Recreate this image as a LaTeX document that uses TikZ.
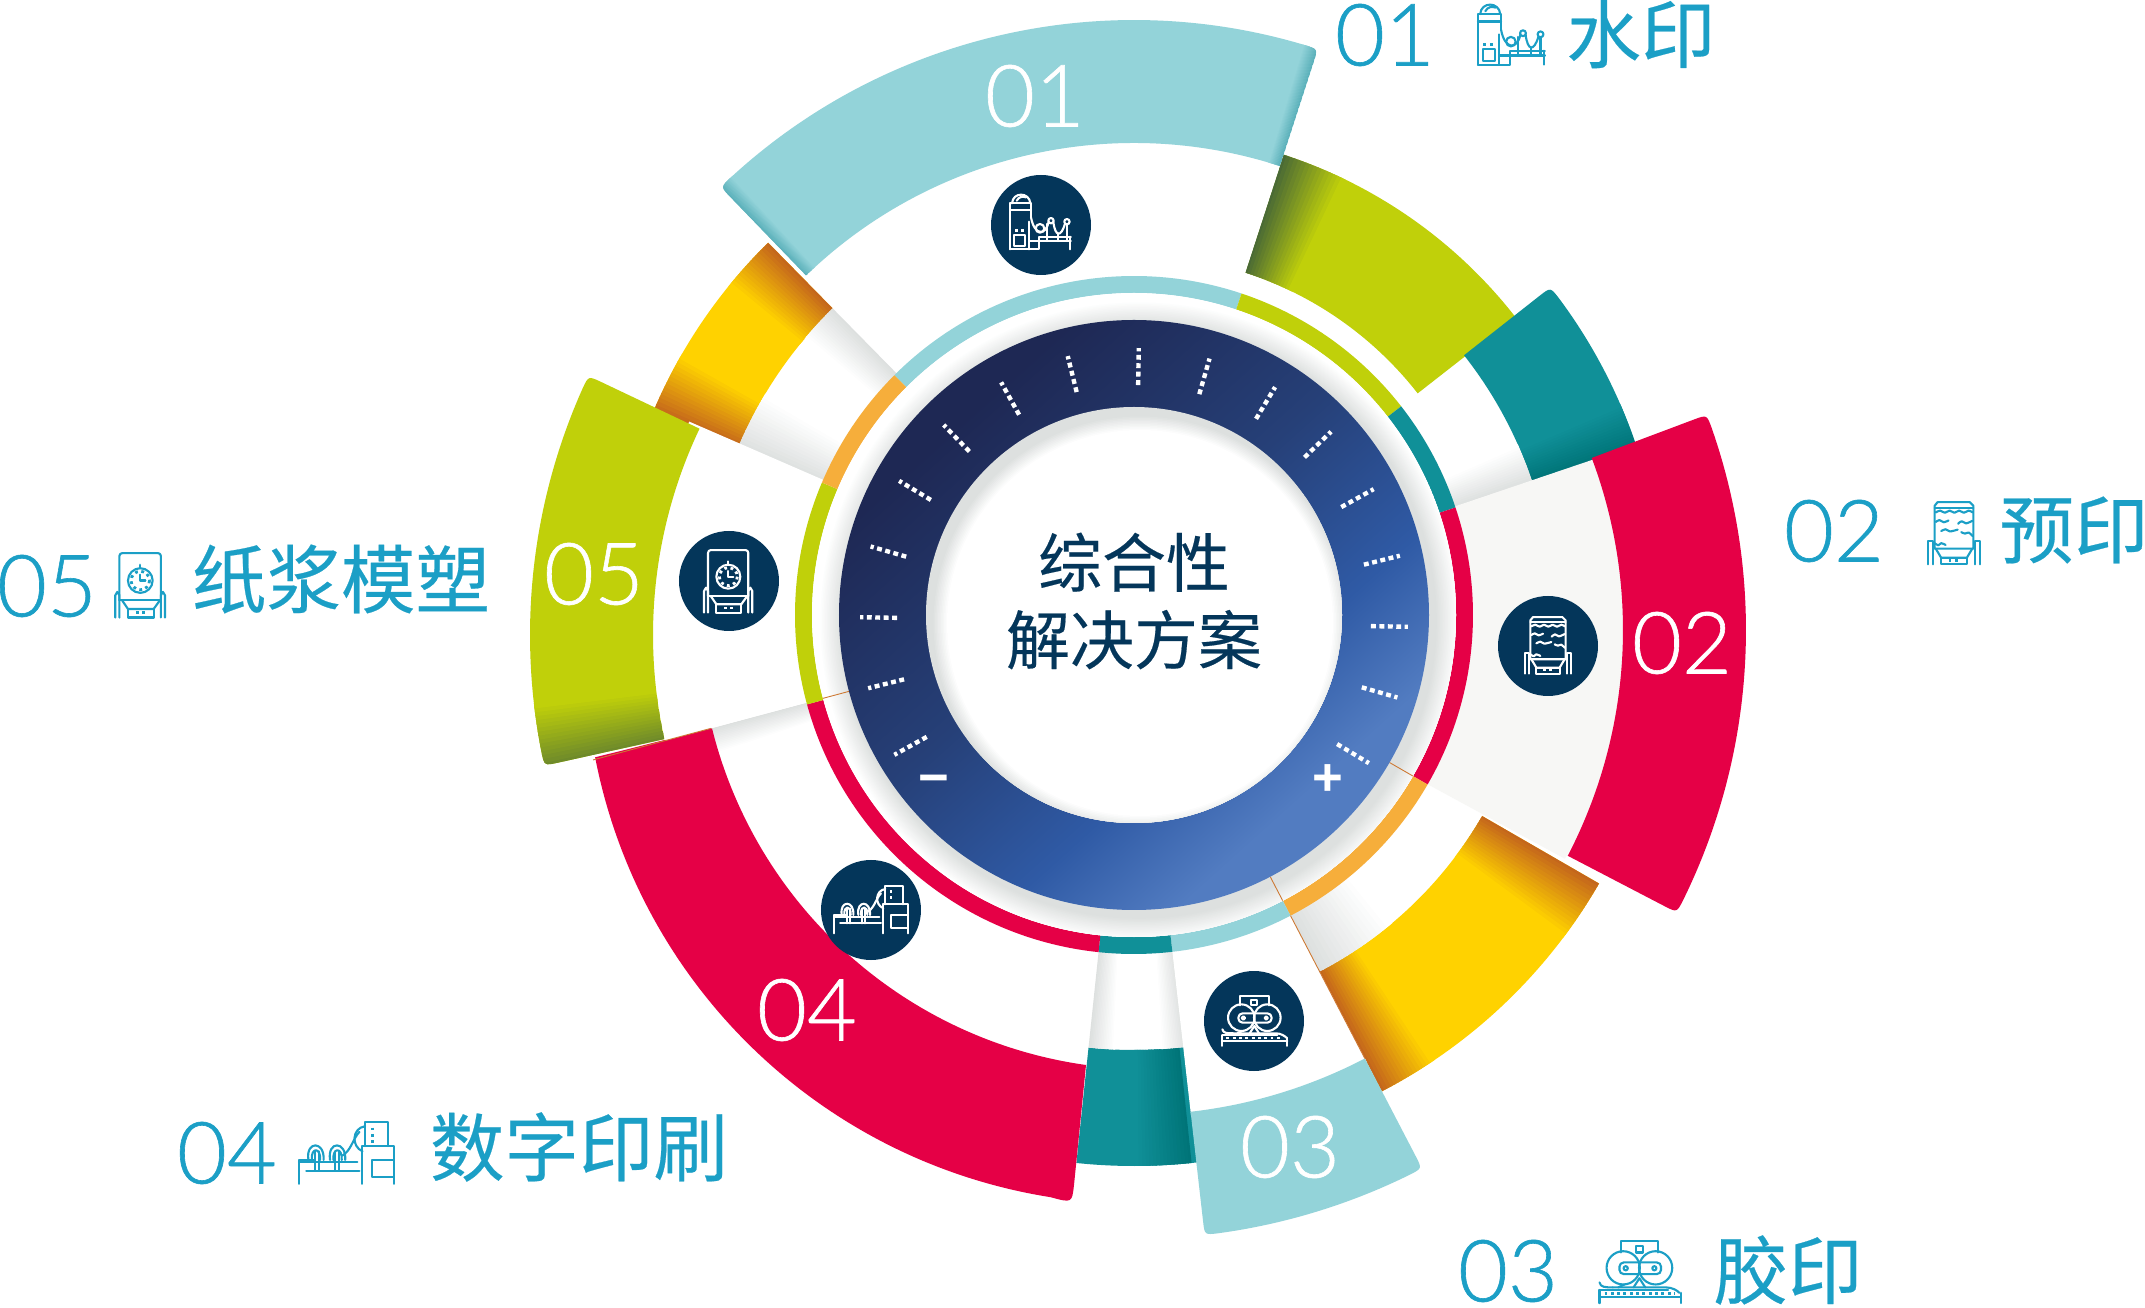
\documentclass[tikz,border=0pt]{standalone}
\usepackage{fontspec}
\setmainfont{Liberation Sans}
\newfontfamily\cjk[FakeBold=0.3]{Noto Sans CJK SC}
\newfontfamily\numfont[FakeBold=0.7]{Lato Light}
\definecolor{WaterBlue} {RGB}{147,211,217}
\definecolor{WaterDeep} {RGB}{90,176,186}
\definecolor{LimeBand}  {RGB}{192,208,10}
\definecolor{LimeDeep}  {RGB}{74,106,53}
\definecolor{LimeLow}   {RGB}{110,138,42}
\definecolor{TealBand}  {RGB}{16,144,152}
\definecolor{TealDeep}  {RGB}{0,116,120}
\definecolor{CrimsonBand}{RGB}{229,0,70}
\definecolor{GoldBand}  {RGB}{255,210,0}
\definecolor{GoldDeep}  {RGB}{196,102,28}
\definecolor{AmberRing} {RGB}{246,174,59}
\definecolor{LabelBlue} {RGB}{27,159,198}
\definecolor{IconNavy}  {RGB}{4,54,90}
\definecolor{DialDark}  {RGB}{30,40,84}
\definecolor{DialCore}  {RGB}{38,64,120}
\definecolor{DialMid}   {RGB}{47,90,165}
\definecolor{DialPale}  {RGB}{82,124,193}
\definecolor{PaleFill}  {RGB}{247,247,245}
\definecolor{ShadeGray} {RGB}{221,224,223}
\definecolor{HairLine}  {RGB}{205,120,50}
\pgfdeclareverticalshading{dialshade}{100bp}{color(0bp)=(DialPale); color(29bp)=(DialPale);
  color(39bp)=(DialMid); color(53bp)=(DialCore); color(72bp)=(DialDark); color(100bp)=(DialDark)}
\usetikzlibrary{calc}
\newcommand{\bandpath}[4]{(#3:#1) -- ({#3}:{#2-0.14}) .. controls (#3:#2) .. ({#3+8/#2}:#2)
  arc[start angle={#3+8/#2},end angle={#4-8/#2},radius=#2]
  .. controls (#4:#2) .. ({#4}:{#2-0.14}) -- (#4:#1)
  arc[start angle=#4,end angle=#3,radius=#1] -- cycle}
\newcommand{\slices}[6]{\foreach \i in {0,...,15}{
    \pgfmathsetmacro{\sa}{#3+(#4-(#3))*max(\i-0.3,0)/16}
    \pgfmathsetmacro{\sb}{#3+(#4-(#3))*(\i+1)/16}
    \pgfmathsetmacro{\mx}{100*(1-\i/15)}
    \fill[#5!\mx!#6] (\sa:#1) -- (\sa:#2) arc[start angle=\sa,end angle=\sb,radius=#2]
      -- (\sb:#1) arc[start angle=\sb,end angle=\sa,radius=#1] -- cycle;}}
\tikzset{
  iconbase/.style={x=0.00333cm,y=-0.00333cm,shift={(-135,-135)},line width=0.6pt,
                   line join=round,line cap=round},
  icondots/.style={dash pattern=on 0.8pt off 1pt,line width=0.8pt,line cap=butt},
  bignum/.style={font=\fontsize{24.5}{24.5}\numfont,inner sep=0pt},
  whitenum/.style={bignum,white},
  bluenum/.style={bignum,LabelBlue},
  cjklabel/.style={font=\fontsize{21.2}{24}\cjk,LabelBlue,inner sep=0pt},
  iconcirc/.style={circle,fill=IconNavy,minimum size=1cm,inner sep=0pt},
  tickdash/.style={white,line width=1.25pt,dash pattern=on 1.4pt off 1pt},
  signtxt/.style={white,font=\fontsize{15}{15}\selectfont\bfseries,inner sep=0pt},
  watericon/.pic={\begin{scope}[iconbase]
    \draw (42,208) -- (42,70) -- (105,70) -- (105,112);
    \draw (42,208) -- (100,208);
    \draw (48,70) .. controls (50,35) and (100,35) .. (103,70);
    \draw (62,62) .. controls (68,50) and (80,48) .. (90,52);
    \draw (42,90) -- (105,90);
    \draw[icondots] (57,152) -- (85,152);
    \draw (55,165) rectangle (88,197);
    \draw (132,145) circle[radius=13];
    \draw (165,122) circle[radius=8];
    \draw (213,125) circle[radius=8];
    \draw (105,112) .. controls (115,168) and (150,168) .. (158,125);
    \draw (172,125) .. controls (178,172) and (195,172) .. (207,132);
    \draw (100,208) -- (130,208) -- (130,170) -- (225,170);
    \draw (100,125) -- (100,208);
    \draw (100,183) -- (225,183);
    \draw (222,170) -- (222,208);
    \draw (152,132) -- (152,183);
    \draw (187,160) -- (187,183);
    \draw (213,133) -- (213,183);
  \end{scope}},
  preprinticon/.pic={\begin{scope}[iconbase]
    \draw (82,175) -- (82,58) -- (90,48) -- (178,48) -- (188,58) -- (188,175) -- cycle;
    \draw (82,64) -- (188,64);
    \draw plot[smooth] coordinates {(85,76) (97,71) (110,77) (123,71) (136,77) (149,71) (162,77) (175,71) (186,76)};
    \draw plot[smooth] coordinates {(85,102) (95,97) (107,103) (120,98)};
    \draw plot[smooth] coordinates {(146,107) (156,100) (168,106) (185,99)};
    \draw plot[smooth] coordinates {(100,127) (112,122) (124,128) (145,123)};
    \draw plot[smooth] coordinates {(155,130) (165,134) (175,131) (186,141)};
    \draw plot[smooth] coordinates {(82,160) (92,166) (100,160) (112,165)};
    \draw (85,175) -- (100,200) -- (170,200) -- (185,175);
    \draw (100,200) rectangle (170,218);
    \draw[icondots] (120,207) -- (150,207);
    \draw (65,218) -- (65,155) -- (78,155) -- (78,218);
    \draw (192,218) -- (192,155) -- (205,155) -- (205,218);
  \end{scope}},
  offseticon/.pic={\begin{scope}[iconbase]
    \draw (92,88) -- (92,60) -- (180,60) -- (180,88);
    \draw (127,72) rectangle (145,88);
    \draw (97,125) circle[radius=40];
    \draw (175,125) circle[radius=40];
    \draw[rounded corners=1.2pt] (88,112) rectangle (188,140);
    \draw (103,126) circle[radius=5];
    \draw (172,126) circle[radius=5];
    \draw (40,160) .. controls (42,172) and (55,172) .. (72,172);
    \draw (85,172) -- (100,165);
    \draw (150,172) -- (136,150) -- (122,172);
    \draw (72,172) -- (200,172) .. controls (215,172) and (228,180) .. (232,185);
    \draw (40,178) -- (40,210);
    \draw (40,195) -- (235,195);
    \draw (40,178) -- (205,178);
    \draw (235,185) -- (235,210);
    \draw[icondots] (52,186) -- (220,186);
  \end{scope}},
  digitalicon/.pic={\begin{scope}[iconbase]
    \draw (178,118) -- (178,62) -- (232,62) -- (232,118);
    \draw[icondots] (195,75) -- (195,112);
    \draw (178,72) .. controls (148,76) and (145,118) .. (172,130);
    \draw (170,205) -- (170,118) -- (245,118) -- (245,205);
    \draw (195,150) rectangle (245,190);
    \draw (47,150) .. controls (40,105) and (85,105) .. (82,150);
    \draw (55,150) .. controls (52,120) and (76,120) .. (74,150);
    \draw (97,150) .. controls (90,105) and (135,105) .. (132,150);
    \draw (105,150) .. controls (102,120) and (126,120) .. (124,150);
    \draw (125,140) .. controls (145,130) and (150,100) .. (165,85);
    \draw (25,205) -- (25,150) -- (60,150);
    \draw (25,155) -- (160,155);
    \draw (42,175) -- (165,175);
    \draw (62,130) -- (62,175);
    \draw (72,130) -- (72,175);
    \draw (108,130) -- (108,175);
    \draw (118,130) -- (118,175);
  \end{scope}},
  pulpicon/.pic={\begin{scope}[iconbase]
    \draw[rounded corners=0.8pt] (72,180) -- (72,42) -- (193,42) -- (193,180);
    \draw (72,180) -- (193,180);
    \draw (133,122) circle[radius=36];
    \draw[icondots] (133,122) circle[radius=27];
    \draw (133,105) -- (133,122) -- (148,122);
    \draw (133,76) -- (133,86);
    \draw (80,180) -- (97,205) -- (172,205) -- (190,180);
    \draw (97,205) rectangle (172,230);
    \draw[icondots] (120,216) -- (150,216);
    \draw (60,230) -- (60,165) -- (66,155) -- (72,165) -- (72,230);
    \draw (193,230) -- (193,165) -- (199,155) -- (205,165) -- (205,230);
  \end{scope}}
}
\begin{document}
\begin{tikzpicture}
  \useasboundingbox (-11.34,-6.93) rectangle (10.11,6.15);
  \fill[white] (-11.34,-6.93) rectangle (10.11,6.15);
  % back bands
  \fill[GoldBand] (134.5:4.30) -- (134.5:5.22) arc[start angle=134.5,end angle=157,radius=5.22]
    -- (157:4.30) arc[start angle=157,end angle=134.5,radius=4.30] -- cycle;
  \slices{4.30}{5.22}{134.5}{141}{GoldDeep}{GoldBand}
  \slices{4.30}{5.22}{157}{150}{GoldDeep}{GoldBand}
  \slices{3.30}{4.30}{134.5}{140}{ShadeGray}{white}
  \slices{3.30}{4.30}{157}{149}{ShadeGray}{white}
  \fill[LimeBand] (38:3.60) -- (38:4.84) arc[start angle=38,end angle=72,radius=4.84]
    -- (72:3.60) arc[start angle=72,end angle=38,radius=3.60] -- cycle;
  \slices{3.60}{4.84}{72}{64}{LimeDeep}{LimeBand}
  \fill[TealBand] \bandpath{4.20}{5.30}{18.5}{38.2};
  \slices{4.20}{5.30}{18.5}{23.5}{TealDeep}{TealBand}
  \slices{3.30}{4.20}{18.5}{24}{ShadeGray}{white}
  \fill[GoldBand] (-62.5:4.02) -- (-62.5:5.37) arc[start angle=-62.5,end angle=-30,radius=5.37]
    -- (-30:4.02) arc[start angle=-30,end angle=-62.5,radius=4.02] -- cycle;
  \slices{4.02}{5.37}{-62.5}{-56}{GoldDeep}{GoldBand}
  \slices{4.02}{5.37}{-30}{-37}{GoldDeep}{GoldBand}
  \slices{3.30}{4.02}{-62.5}{-50}{ShadeGray}{white}
  \fill[TealBand] (-96:4.35) -- (-96:5.51) arc[start angle=-96,end angle=-83,radius=5.51]
    -- (-83:4.35) arc[start angle=-83,end angle=-96,radius=4.35] -- cycle;
  \slices{4.35}{5.51}{-84}{-90}{TealDeep}{TealBand}
  \slices{3.30}{4.35}{-96}{-92.5}{ShadeGray}{white}
  \slices{3.30}{4.35}{-83}{-86.5}{ShadeGray}{white}
  % front wedges
  \fill[white] (72:3.30) -- (72:4.72) arc[start angle=72,end angle=134,radius=4.72]
    -- (134:3.30) arc[start angle=134,end angle=72,radius=3.30] -- cycle;
  \fill[WaterBlue] \bandpath{4.72}{5.95}{72}{134};
  \begin{scope}
    \clip \bandpath{4.72}{5.95}{72}{134};
    \slices{4.72}{5.95}{72}{73.5}{WaterDeep}{WaterBlue}
    \slices{4.72}{5.95}{134}{132.5}{WaterDeep}{WaterBlue}
  \end{scope}
  \fill[PaleFill] (-30:3.30) -- (-29.5:4.95) arc[start angle=-29.5,end angle=18.7,radius=4.95]
    -- (18.7:3.30) arc[start angle=18.7,end angle=-30,radius=3.30] -- cycle;
  \begin{scope}[shift={(0,-0.15)}]
    \fill[CrimsonBand] \bandpath{4.89}{6.12}{-27.5}{20.6};
  \end{scope}
  \fill[white] (-83.5:3.30) -- (-83.5:5.05) arc[start angle=-83.5,end angle=-62.5,radius=5.05]
    -- (-62.5:3.30) arc[start angle=-62.5,end angle=-83.5,radius=3.30] -- cycle;
  \fill[WaterBlue] \bandpath{5.00}{6.24}{-83.5}{-62.5};
  \slices{3.30}{4.40}{195}{198.5}{ShadeGray}{white}
  \fill[CrimsonBand] ([shift={(0.03,-0.37)}]191:5.52) arc[start angle=191,end angle=261,radius=5.52]
    .. controls (-0.62,-5.88) .. (-0.60,-5.70) -- (-0.48,-4.50)
    arc[start angle=262,end angle=194,radius=4.50] -- cycle;
  \fill[white] (156.5:3.30) -- (156.5:4.85) arc[start angle=156.5,end angle=195,radius=4.85]
    -- (195:3.30) arc[start angle=195,end angle=156.5,radius=3.30] -- cycle;
  \begin{scope}[shift={(0,-0.2)}]
    \fill[LimeBand] \bandpath{4.81}{6.04}{154.6}{192.5};
    \clip \bandpath{4.81}{6.04}{154.6}{192.5};
    \slices{4.81}{6.04}{192.5}{186.5}{LimeLow}{LimeBand}
  \end{scope}
  % thin ring
  \foreach \a/\b/\c in {71.5/135/WaterBlue,38/71.5/LimeBand,18.5/38/TealBand,-30/18.5/CrimsonBand,
      -62.5/-30/AmberRing,-83.5/-62.5/WaterBlue,-96/-83.5/TealBand,-164.7/-96/CrimsonBand,
      157/195.3/LimeBand,135/157/AmberRing}{
    \fill[\c] (\a:3.22) -- (\a:3.39) arc[start angle=\a,end angle=\b,radius=3.39]
      -- (\b:3.22) arc[start angle=\b,end angle=\a,radius=3.22] -- cycle;}
  % dial
  \fill[white] (0,0) circle[radius=3.22];
  \begin{scope}
    \clip (0,0) circle[radius=3.22];
    \foreach \i in {0,...,14}{
      \pgfmathsetmacro{\rr}{3.20-0.016*\i}
      \pgfmathsetmacro{\mx}{100*\i/14}
      \fill[ShadeGray!\mx!white] (0.05,-0.06) circle[radius=\rr];}
  \end{scope}
  \draw[HairLine,line width=0.25pt] (-30:2.95) -- (-30:3.22);
  \draw[HairLine,line width=0.25pt] (-62.5:2.95) -- (-62.5:3.22);
  \draw[HairLine,line width=0.25pt] (-62.5:3.39) -- (-62.5:5.0);
  \draw[HairLine,line width=0.25pt] (195:2.95) -- (195:3.22);
  \draw[HairLine,line width=0.25pt] (195:4.38) -- (195:5.6);
  \shade[shading=dialshade,shading angle=42] (0,0) circle[radius=2.95];
  \foreach \k in {0,...,16}{
    \pgfmathsetmacro{\a}{-31+15*\k}
    \draw[tickdash] ([shift={(0,-0.07)}]\a:2.37) -- ([shift={(0,-0.07)}]\a:2.74);}
  \node[signtxt] (minus) at (-2.00,-1.70) {−};
  \node[signtxt] (plus) at (1.94,-1.65) {+};
  \fill[ShadeGray] (0,0) circle[radius=2.08];
  \begin{scope}
    \clip (0,0) circle[radius=2.08];
    \foreach \i in {0,...,14}{
      \pgfmathsetmacro{\rr}{2.08-0.015*\i}
      \pgfmathsetmacro{\mx}{100*\i/10}
      \pgfmathsetmacro{\mc}{min(\mx,100)}
      \fill[white!\mc!ShadeGray] (0.06,-0.08) circle[radius=\rr];}
  \end{scope}
  \node[IconNavy,align=center,font=\fontsize{18.2}{22}\cjk] (title) at (0,0.14)
       {综合性\\解决方案};
  % icon discs
  \node[iconcirc] (C1) at (-0.93,3.90) {};
  \node[iconcirc] (C2) at (4.14,-0.31) {};
  \node[iconcirc] (C3) at (1.20,-4.06) {};
  \node[iconcirc] (C4) at (-2.63,-2.95) {};
  \node[iconcirc] (C5) at (-4.05,0.34) {};
  \pic[white] at (C1) {watericon};
  \pic[white] at (C2) {preprinticon};
  \pic[white] at (C3) {offseticon};
  \pic[white] at (C4) {digitalicon};
  \pic[white] at (C5) {pulpicon};
  % numbers on the bands
  \node[whitenum] (N1) at (-0.99,5.19) {01};
  \node[whitenum] (N2) at (5.48,-0.28) {02};
  \node[whitenum] (N3) at (1.56,-5.32) {03};
  \node[whitenum] (N4) at (-3.27,-3.95) {04};
  \node[whitenum] (N5) at (-5.40,0.41) {05};
  % outer labels
  \node[bluenum] (L1) at (2.51,5.80) {01};
  \pic[LabelBlue,scale=1.1] at (3.78,5.77) {watericon};
  \node[cjklabel] (T1) at (5.07,5.81) {水印};
  \node[bluenum] (L2) at (7.00,0.84) {02};
  \pic[LabelBlue,scale=1.1] at (8.20,0.81) {preprinticon};
  \node[cjklabel] (T2) at (9.40,0.85) {预印};
  \node[bluenum] (L3) at (3.74,-6.56) {03};
  \pic[LabelBlue,scale=1.25] at (5.05,-6.57) {offseticon};
  \node[cjklabel] (T3) at (6.54,-6.55) {胶印};
  \node[bluenum] (L4) at (-9.07,-5.38) {04};
  \pic[LabelBlue,scale=1.3] at (-7.875,-5.385) {digitalicon};
  \node[cjklabel] (T4) at (-5.55,-5.32) {数字印刷};
  \node[bluenum] (L5) at (-10.87,0.29) {05};
  \pic[LabelBlue,scale=1.03] at (-9.93,0.30) {pulpicon};
  \node[cjklabel] (T5) at (-7.93,0.36) {纸浆模塑};
\end{tikzpicture}
\end{document}
